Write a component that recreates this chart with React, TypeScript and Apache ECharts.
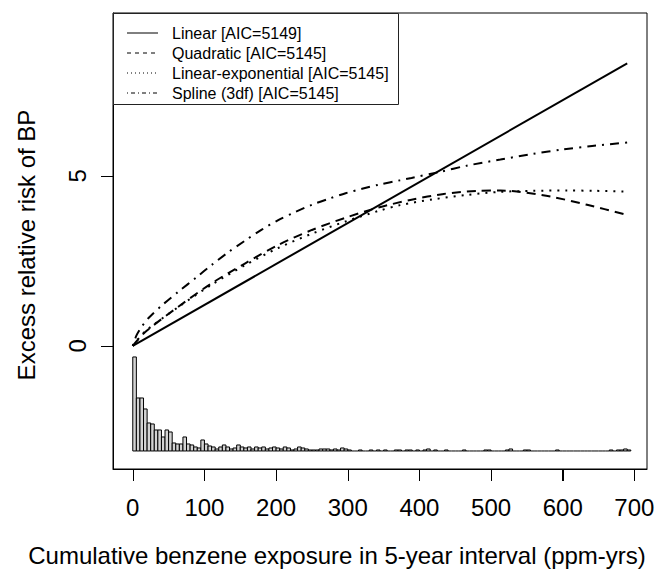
import React, { useEffect, useRef } from "react";
import * as echarts from "echarts";

// ---- data ----
const xTicks = [0, 100, 200, 300, 400, 500, 600, 700];
const yTicks = [0, 5];
const binWidth = 5;
// histogram of exposure (bins of 5 ppm-yrs starting at 0), relative heights
const histCounts = [
  94, 53, 53, 42, 28, 27, 21, 21, 14, 21, 19, 8, 7, 7, 14, 7, 6, 4, 3, 11,
  7, 5, 4, 2, 4, 6, 4, 2, 3, 6, 4, 3, 4, 2, 4, 3, 4, 2, 3, 4,
  3, 2, 4, 3, 1, 2, 4, 3, 2, 1, 1, 1, 2, 2, 2, 1, 2, 1, 3, 2,
  1, 0, 0, 1, 0, 0, 1, 0, 1, 0, 1, 0, 0, 1, 1, 0, 1, 1, 0, 1,
  0, 1, 2, 0, 1, 0, 0, 1, 0, 0, 0, 0, 1, 0, 0, 0, 0, 0, 1, 1,
  0, 0, 0, 0, 1, 2, 0, 0, 0, 1, 1, 0, 0, 0, 0, 0, 0, 0, 1, 0,
  0, 0, 0, 0, 0, 0, 0, 0, 0, 0, 0, 0, 0, 1, 0, 1, 1, 2, 1,
];
const linearPts = [
  [0, 0],
  [690, 8.31],
];
const quadraticPts = [
  [0, 0], [17, 0.4], [64, 1.16], [110, 1.84], [157, 2.43], [203, 2.97],
  [250, 3.41], [297, 3.77], [343, 4.07], [389, 4.3], [434, 4.47], [480, 4.56],
  [513, 4.57], [536, 4.54], [583, 4.39], [634, 4.15], [690, 3.85],
];
const linExpPts = [
  [0, 0], [17, 0.42], [64, 1.15], [110, 1.8], [157, 2.38], [203, 2.88],
  [250, 3.3], [297, 3.66], [343, 3.97], [373, 4.14], [419, 4.31], [466, 4.44],
  [513, 4.53], [559, 4.56], [605, 4.57], [646, 4.56], [690, 4.54],
];
const splinePts = [
  [0, 0], [5, 0.3], [12, 0.55], [22, 0.82], [40, 1.18], [64, 1.6], [89, 2.02], [110, 2.38],
  [133, 2.75], [157, 3.1], [180, 3.42], [203, 3.7], [227, 3.94], [250, 4.15],
  [274, 4.33], [297, 4.49], [320, 4.62], [343, 4.74], [373, 4.87], [389, 4.94],
  [429, 5.12], [466, 5.3], [513, 5.48], [559, 5.65], [601, 5.78], [641, 5.88], [690, 5.98],
];
const legendLabels = [
  "Linear [AIC=5149]",
  "Quadratic [AIC=5145]",
  "Linear-exponential [AIC=5145]",
  "Spline (3df) [AIC=5145]",
];

// ---- layout / style constants ----
const FONT = "'Liberation Sans', Arial, sans-serif";
const HIST_BASE = -3.09;
const HIST_SCALE = 1 / 34;
const X_MIN = -27.6;
const X_MAX = 717.6;
const Y_MIN = -3.62;
const Y_MAX = 9.79;
const TICK_LEN = 12;
const curveDash: any[] = ["solid", [9, 6], [2, 6], [2, 6, 9, 6]];
const legendDash: any[] = ["solid", [4, 4], [1, 3], [1, 3, 4, 3]];

export default function App() {
  const ref = useRef<HTMLDivElement>(null);
  useEffect(() => {
    if (!ref.current) return;
    const chart = echarts.init(ref.current, undefined, { renderer: "svg" });
    const curves = [linearPts, quadraticPts, linExpPts, splinePts];
    const legendGraphics: any[] = [
      {
        type: "rect",
        shape: { x: 113.5, y: 13.5, width: 285, height: 91 },
        style: { fill: "#fff", stroke: "#222", lineWidth: 1 },
        z: 100,
      },
    ];
    legendLabels.forEach((lab, i) => {
      const y = 33 + i * 20;
      legendGraphics.push({
        type: "line",
        shape: { x1: 127, y1: y, x2: 158, y2: y },
        style: {
          stroke: "#000",
          lineWidth: 1,
          lineDash: legendDash[i] === "solid" ? null : legendDash[i],
        },
        z: 101,
      });
      legendGraphics.push({
        type: "text",
        x: 172,
        y: y,
        style: {
          text: lab,
          fontSize: 16,
          fontFamily: FONT,
          fill: "#000",
          verticalAlign: "middle",
        },
        z: 101,
      });
    });

    chart.setOption({
      animation: false,
      backgroundColor: "#fff",
      grid: {
        left: 113,
        right: 15,
        top: 13,
        bottom: 104,
        show: true,
        borderColor: "#000",
        borderWidth: 1,
        backgroundColor: "transparent",
        outerBoundsMode: "none",
      },
      xAxis: {
        type: "value",
        min: X_MIN,
        max: X_MAX,
        axisLine: { show: true, onZero: false, lineStyle: { color: "#000", width: 1 } },
        splitLine: { show: false },
        axisTick: {
          show: true,
          customValues: xTicks,
          length: TICK_LEN,
          lineStyle: { color: "#000", width: 1 },
        },
        axisLabel: {
          customValues: xTicks,
          fontSize: 24,
          fontFamily: FONT,
          color: "#000",
          margin: 26,
        },
      },
      yAxis: {
        type: "value",
        min: Y_MIN,
        max: Y_MAX,
        axisLine: { show: true, onZero: false, lineStyle: { color: "#000", width: 1 } },
        splitLine: { show: false },
        axisTick: {
          show: true,
          customValues: yTicks,
          length: TICK_LEN,
          lineStyle: { color: "#000", width: 1 },
        },
        axisLabel: {
          customValues: yTicks,
          rotate: 90,
          fontSize: 24,
          fontFamily: FONT,
          color: "#000",
          margin: 24,
        },
      },
      series: [
        {
          type: "custom",
          data: histCounts.map((c, i) => [i * binWidth, c]),
          renderItem: (params: any, api: any) => {
            const x0 = api.value(0);
            const c = api.value(1);
            const p0 = api.coord([x0, HIST_BASE]);
            const p1 = api.coord([x0 + binWidth, HIST_BASE + c * HIST_SCALE]);
            if (c === 0) {
              return {
                type: "line",
                shape: { x1: p0[0], y1: p0[1], x2: p1[0], y2: p0[1] },
                style: { stroke: "#000", lineWidth: 1 },
              };
            }
            return {
              type: "rect",
              shape: { x: p0[0], y: p1[1], width: p1[0] - p0[0], height: p0[1] - p1[1] },
              style: { fill: "#d3d3d3", stroke: "#000", lineWidth: 1 },
            };
          },
          z: 1,
        },
        {
          // x-axis ticks hanging below the plot box (drawn through the axis scale)
          type: "custom",
          clip: false,
          data: xTicks.map((v) => [v, Y_MIN]),
          renderItem: (params: any, api: any) => {
            const p = api.coord([api.value(0), api.value(1)]);
            const x = Math.round(p[0]) + 0.5;
            return {
              type: "line",
              shape: { x1: x, y1: p[1], x2: x, y2: p[1] + TICK_LEN },
              style: { stroke: "#000", lineWidth: 1 },
            };
          },
          z: 2,
        },
        ...curves.map((pts, i) => ({
          type: "line",
          data: pts,
          showSymbol: false,
          symbol: "none",
          smooth: i === 0 ? false : 0.3,
          lineStyle: { color: "#000", width: 2, type: curveDash[i] },
          z: 3,
        })),
      ],
      graphic: [
        ...legendGraphics,
        {
          type: "text",
          x: 337,
          y: 555,
          style: {
            text: "Cumulative benzene exposure in 5-year interval (ppm-yrs)",
            fontSize: 24,
            fontFamily: FONT,
            fill: "#000",
            align: "center",
            verticalAlign: "middle",
          },
        },
        {
          type: "text",
          x: 26,
          y: 245,
          rotation: Math.PI / 2,
          style: {
            text: "Excess relative risk of BP",
            fontSize: 24,
            fontFamily: FONT,
            fill: "#000",
            align: "center",
            verticalAlign: "middle",
          },
        },
      ],
    });
    return () => chart.dispose();
  }, []);
  return (
    <div
      ref={ref}
      style={{ position: "fixed", left: 0, top: 0, width: 662, height: 573 }}
    />
  );
}
